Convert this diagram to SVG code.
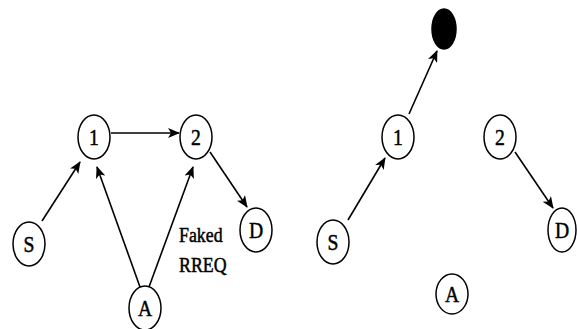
<svg xmlns="http://www.w3.org/2000/svg" width="577" height="329" viewBox="0 0 577 329">
<defs>
<style>
.n{fill:#fff;stroke:#000;stroke-width:1.5}
.f{fill:#000;stroke:#000;stroke-width:1.5}
.t{font-family:"Liberation Serif","Times New Roman",serif;font-size:24px;fill:#000;stroke:#000;stroke-width:0.5;text-anchor:middle}
.l{font-family:"Liberation Serif","Times New Roman",serif;font-size:21px;fill:#000;stroke:#000;stroke-width:0.5;text-anchor:start}
.e{stroke:#000;stroke-width:1.6;fill:none;marker-end:url(#ah)}
</style>
<marker id="ah" viewBox="0 0 12 10" refX="11" refY="5" markerWidth="12" markerHeight="10" markerUnits="userSpaceOnUse" orient="auto">
<path d="M0,0 L12,5 L0,10 L3,5 Z" fill="#000"/>
</marker>
</defs>
<rect width="577" height="329" fill="#fff"/>
<g id="connectors">
<line class="e" x1="42" y1="221" x2="80" y2="162"/>
<line class="e" x1="111" y1="133" x2="179" y2="133"/>
<line class="e" x1="140" y1="287" x2="97" y2="167"/>
<line class="e" x1="149" y1="287" x2="193" y2="167"/>
<line class="e" x1="210" y1="152" x2="247" y2="207"/>
<line class="e" x1="348" y1="220" x2="385" y2="158"/>
<line class="e" x1="409" y1="114" x2="437" y2="51"/>
<line class="e" x1="515" y1="152" x2="553" y2="208"/>
</g>
<g id="L1"><ellipse class="n" cx="94" cy="137" rx="16" ry="22"/><text class="t" transform="translate(94,145) scale(0.82,1)">1</text></g>
<g id="L2"><ellipse class="n" cx="196" cy="137" rx="16" ry="22"/><text class="t" transform="translate(196,145) scale(0.82,1)">2</text></g>
<g id="LS"><ellipse class="n" cx="29" cy="244" rx="16" ry="22"/><text class="t" transform="translate(29,252) scale(0.82,1)">S</text></g>
<g id="LD"><ellipse class="n" cx="256" cy="230" rx="16" ry="22"/><text class="t" transform="translate(256,238) scale(0.82,1)">D</text></g>
<g id="LA"><ellipse class="n" cx="145" cy="308" rx="16" ry="22"/><text class="t" transform="translate(145,316) scale(0.82,1)">A</text></g>
<g id="label"><text class="l" transform="translate(179,242) scale(0.85,1)">Faked</text><text class="l" transform="translate(179,272) scale(0.85,1)">RREQ</text></g>
<g id="RB"><ellipse class="f" cx="444" cy="29" rx="12" ry="20"/></g>
<g id="R1"><ellipse class="n" cx="398" cy="137" rx="16" ry="22"/><text class="t" transform="translate(398,145) scale(0.82,1)">1</text></g>
<g id="R2"><ellipse class="n" cx="500" cy="137" rx="16" ry="22"/><text class="t" transform="translate(500,145) scale(0.82,1)">2</text></g>
<g id="RS"><ellipse class="n" cx="333" cy="242" rx="16" ry="22"/><text class="t" transform="translate(333,250) scale(0.82,1)">S</text></g>
<g id="RD"><ellipse class="n" cx="562" cy="230" rx="14" ry="22"/><text class="t" transform="translate(562,238) scale(0.82,1)">D</text></g>
<g id="RA"><ellipse class="n" cx="452" cy="294" rx="16" ry="20"/><text class="t" transform="translate(452,302) scale(0.82,1)">A</text></g>
</svg>
